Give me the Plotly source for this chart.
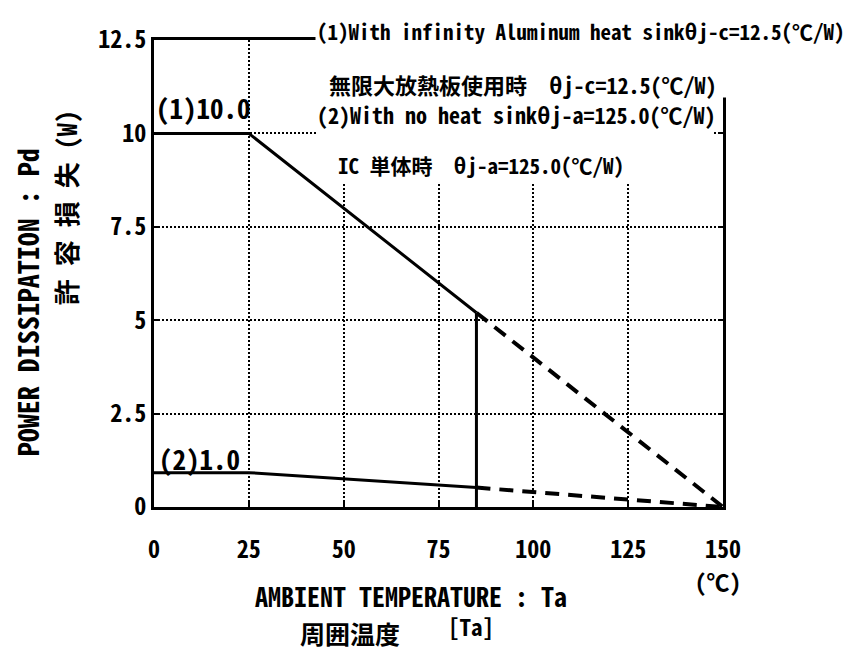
import plotly.graph_objects as go

# ---- data ----
temp_solid = [0, 25, 85]
pd1_solid = [10.0, 10.0, 5.2]
temp_dash = [85, 150]
pd1_dash = [5.2, 0.0]
pd2_solid = [0.92, 0.92, 0.52]
pd2_dash = [0.52, 0.0]
cut_x = [85, 85]
cut_y = [0.0, 5.2]

x_ticks = [0, 25, 50, 75, 100, 125, 150]
y_ticks = [0, 2.5, 5, 7.5, 10, 12.5]
y_tick_text = ["0", "2.5", "5", "7.5", "10", "12.5"]

FONT = "Noto Sans Mono CJK JP, Noto Sans CJK JP, DejaVu Sans Mono, monospace"
BLACK = "#000000"

fig = go.Figure()
fig.add_trace(go.Scatter(x=temp_solid, y=pd1_solid, mode="lines",
                         line=dict(color=BLACK, width=3), showlegend=False))
fig.add_trace(go.Scatter(x=temp_dash, y=pd1_dash, mode="lines",
                         line=dict(color=BLACK, width=4, dash="14px,9px"), showlegend=False))
fig.add_trace(go.Scatter(x=temp_solid, y=pd2_solid, mode="lines",
                         line=dict(color=BLACK, width=3), showlegend=False))
fig.add_trace(go.Scatter(x=temp_dash, y=pd2_dash, mode="lines",
                         line=dict(color=BLACK, width=4, dash="14px,9px"), showlegend=False))
fig.add_trace(go.Scatter(x=cut_x, y=cut_y, mode="lines",
                         line=dict(color=BLACK, width=3), showlegend=False))

# white cover over the upper-right area (grid lines hidden behind the notes)
fig.add_shape(type="rect", xref="paper", yref="paper", x0=0.288, x1=0.984, y0=0.692, y1=1.07,
              fillcolor="white", line=dict(width=0), layer="above")
fig.add_shape(type="rect", xref="paper", yref="paper", x0=0.96, x1=1.02, y0=0.877, y1=1.07,
              fillcolor="white", line=dict(width=0), layer="above")

ann = []
def note(text, x, y, size, xanchor="center", angle=0, bg=None, weight="bold"):
    d = dict(text=text, x=x, y=y, xref="paper", yref="paper", showarrow=False,
             xanchor=xanchor, yanchor="middle", textangle=angle,
             font=dict(family=FONT, size=size, color=BLACK, weight=weight))
    if bg:
        d["bgcolor"] = bg
    ann.append(d)

note("(1)With infinity Aluminum heat sinkθj-c=12.5(℃/W)", 0.283, 1.019, 21, "left", bg="white")
note("無限大放熱板使用時　θj-c=12.5(℃/W)", 0.649, 0.906, 22)
note("(2)With no heat sinkθj-a=125.0(℃/W)", 0.283, 0.842, 22, "left")
note("IC 単体時　θj-a=125.0(℃/W)", 0.574, 0.733, 21)
note("(1)10.0", 0.0, 0.855, 27, "left")
note("(2)1.0", 0.006, 0.104, 27, "left")
note("POWER DISSIPATION : Pd", -0.224, 0.4375, 28, angle=-90)
note("許 容 損 失 (W)", -0.156, 0.64, 26, angle=-90)
note("AMBIENT TEMPERATURE : Ta", 0.452, -0.19, 26)
note("周囲温度", 0.344, -0.269, 25)
note("[Ta]", 0.557, -0.254, 23)
note("(℃)", 0.991, -0.158, 23)

fig.update_layout(
    width=863, height=656,
    margin=dict(l=146, r=148, t=19, b=157),
    paper_bgcolor="white", plot_bgcolor="white",
    annotations=ann,
    xaxis=dict(range=[0, 150], tickvals=x_ticks, ticks="inside", ticklen=5, tickwidth=2,
               tickcolor=BLACK, showline=True, linecolor=BLACK, linewidth=3, mirror=True,
               showgrid=True, gridcolor=BLACK, gridwidth=2, griddash="2px,2px", zeroline=False,
               tickfont=dict(family=FONT, size=24, color=BLACK, weight="bold"),
               ticklabelstandoff=19, ticklabeloverflow="allow"),
    yaxis=dict(range=[0, 12.5], tickvals=y_ticks, ticktext=y_tick_text, ticks="inside",
               ticklen=5, tickwidth=2, tickcolor=BLACK, showline=True, linecolor=BLACK,
               linewidth=3, mirror="ticks", showgrid=True, gridcolor=BLACK, gridwidth=2,
               griddash="2px,2px", zeroline=False, ticklabeloverflow="allow",
               tickfont=dict(family=FONT, size=24, color=BLACK, weight="bold")),
)

fig.write_html("out.html")
